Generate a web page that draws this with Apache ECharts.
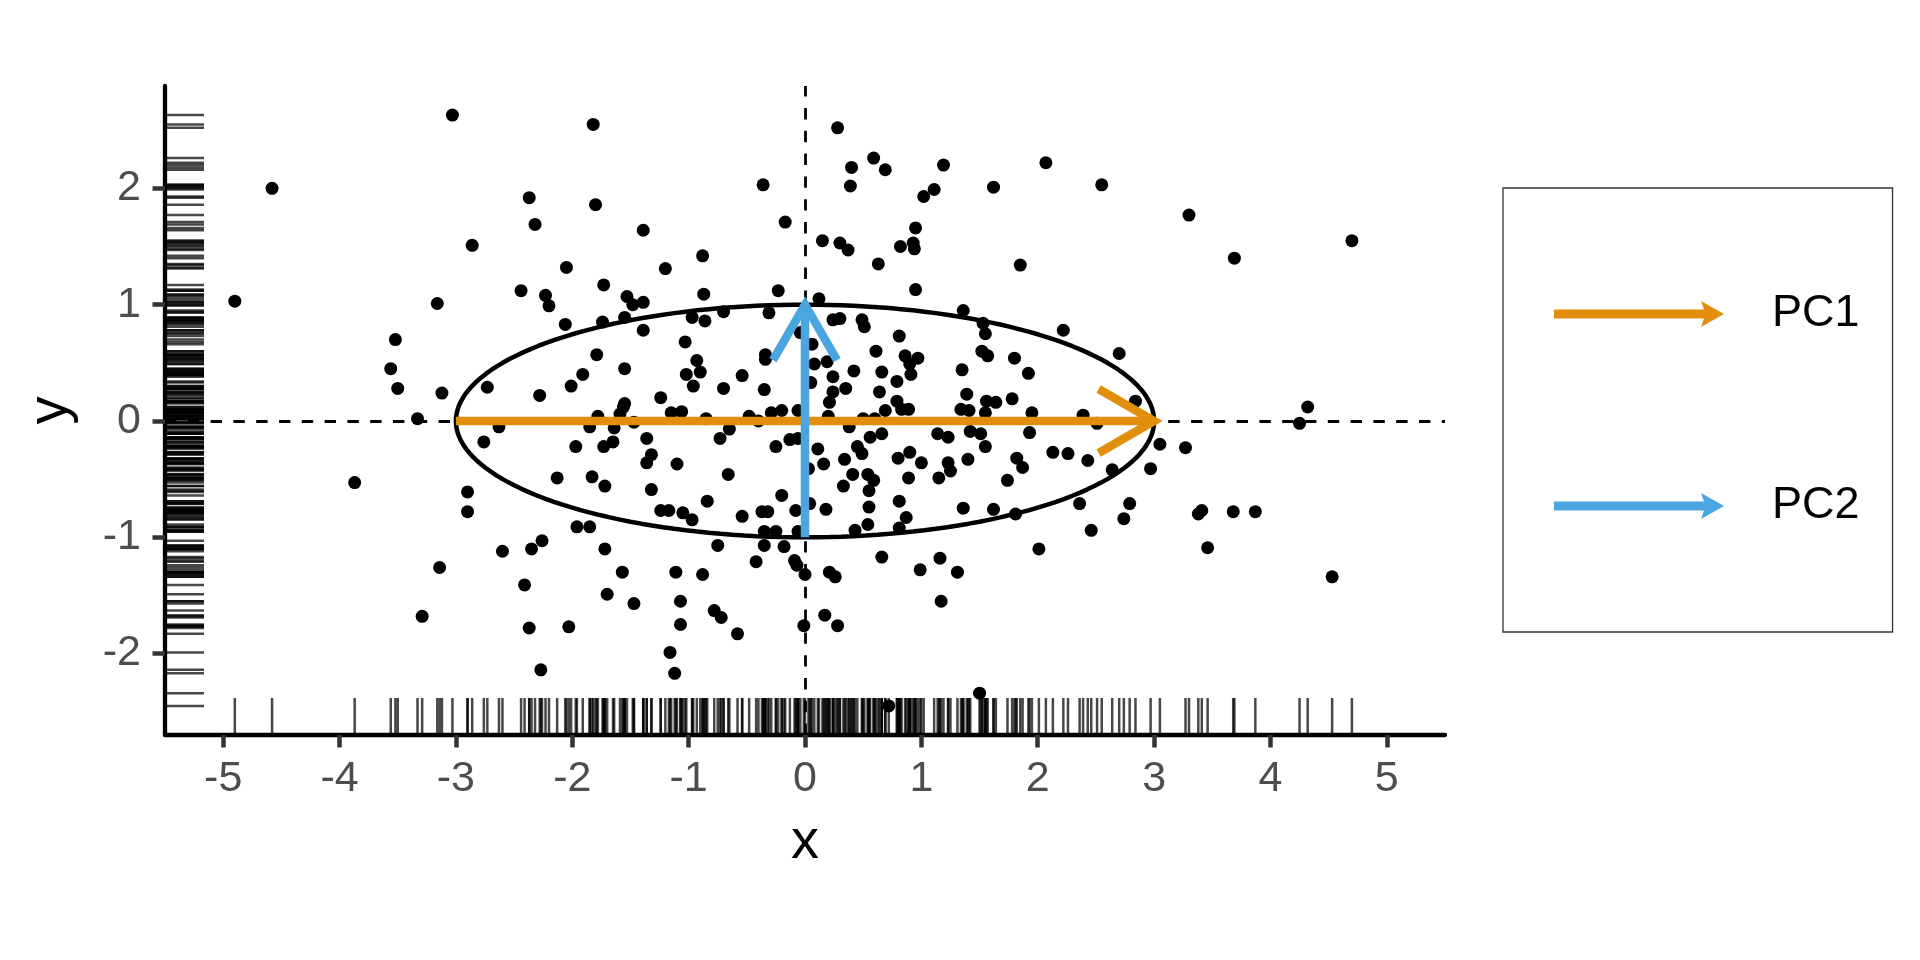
<!DOCTYPE html>
<html><head><meta charset="utf-8">
<script src="https://cdn.jsdelivr.net/npm/echarts@6/dist/echarts.min.js"></script>
<style>html,body{margin:0;padding:0;background:#fff}#c{width:1920px;height:960px}</style>
</head><body><div id="c"></div>
<script>
// ---- data ----
const pointsX = [
-3.03,-4.58,-2.86,-4.90,-3.16,-3.52,-3.56,-3.50,-3.12,-2.73,
-1.82,-0.36,-2.37,-1.80,-2.32,-0.17,-1.39,0.15,-0.88,-2.05,-1.20,-1.73,-2.44,-2.23,-1.53,-0.23,-0.87,-2.20,-1.48,-1.39,0.12,-0.70,-2.06,-1.74,-1.55,-0.97,-0.86,-0.31,-1.39,-1.03,-0.04,0.06,-1.79,-0.93,-0.34,-0.34,0.08,-1.55,-1.91,-1.02,-0.90,-0.54,0.05,-2.28,-2.01,-0.96,-0.70,-0.35,-1.55,-1.24,
0.28,0.59,0.40,0.69,1.19,2.07,0.39,1.62,2.55,1.11,1.02,0.95,0.30,0.37,0.82,0.93,0.94,0.63,1.85,0.95,1.36,0.24,0.30,0.49,0.51,1.53,1.55,2.22,0.81,0.61,0.86,0.97,0.90,1.52,1.57,1.80,2.70,0.19,0.42,0.66,0.91,1.35,1.92,0.24,0.79,0.35,0.24,0.64,1.39,1.78,2.84,0.21,0.79,1.56,1.64,
3.30,3.69,4.70,
-3.33,-2.76,-3.87,-2.90,-2.90,-3.14,-3.29,
-1.78,-1.59,-1.56,-1.15,-1.06,-0.85,-0.48,-0.40,-0.29,-0.20,-0.06,-2.63,-1.85,-1.64,-1.47,-0.65,-1.97,-1.73,-1.65,-1.36,-0.73,-0.25,-0.13,-0.06,0.11,-1.32,-1.36,-1.10,0.03,0.16,-2.13,-1.83,-1.72,-1.32,-0.66,-0.20,-0.84,0.04,0.18,-1.24,-1.17,-1.05,-0.97,-0.54,-0.37,-0.32,-0.08,-1.96,-1.85,-0.35,-0.25,-0.06,-2.26,-2.35,-2.60,-1.72,-0.75,-0.35,-0.18,-0.42,-0.09,-0.07,0.00,-1.57,-1.11,-0.88,-2.41,-1.70,-1.47,-1.07,-0.78,-0.72,-0.58,0.17,-2.37,-2.03,-1.07,-0.01,-1.16,-2.27,-1.12,
0.69,0.83,0.89,1.34,1.41,1.55,1.95,2.39,2.51,0.50,0.60,0.20,0.38,0.56,0.66,1.14,1.23,1.42,1.51,1.93,1.55,0.45,0.49,0.34,0.80,0.90,1.00,1.23,1.25,1.40,1.82,1.87,2.13,2.26,2.43,2.64,2.97,0.41,0.54,0.59,0.89,1.15,1.74,0.33,0.55,0.81,0.55,0.87,0.54,0.43,0.81,1.36,1.62,1.81,2.36,2.79,2.74,2.46,2.01,0.66,1.16,0.99,1.31,0.21,0.26,1.17,0.28,1.50,0.72,
4.32,4.25,3.05,3.27,3.38,3.41,3.68,3.87,3.46,4.53
];
const pointsY = [
2.63,2.00,1.51,1.03,1.01,0.70,0.45,0.28,0.24,0.29,
2.55,2.03,1.92,1.86,1.69,1.71,1.64,1.55,1.42,1.32,1.31,1.17,1.12,1.08,1.07,1.12,1.09,0.99,1.00,1.02,1.05,0.94,0.83,0.85,0.89,0.89,0.86,0.93,0.78,0.68,0.76,0.66,0.57,0.52,0.57,0.53,0.49,0.45,0.40,0.40,0.42,0.39,0.33,0.22,0.30,0.30,0.28,0.27,0.15,0.20,
2.52,2.26,2.18,2.16,2.20,2.22,2.02,2.01,2.03,1.99,1.93,1.66,1.53,1.47,1.50,1.53,1.48,1.35,1.34,1.13,0.95,0.87,0.88,0.87,0.81,0.84,0.75,0.78,0.73,0.60,0.56,0.54,0.49,0.60,0.56,0.54,0.58,0.51,0.43,0.42,0.40,0.44,0.41,0.38,0.34,0.28,0.25,0.25,0.23,0.19,0.17,0.16,0.17,0.17,0.16,
1.77,1.40,1.55,
0.02,-0.18,-0.53,-0.61,-0.78,-1.26,-1.68,
0.04,0.06,0.12,0.07,0.08,0.02,0.04,0.00,0.07,0.09,0.09,-0.05,-0.05,-0.06,-0.01,-0.07,-0.22,-0.22,-0.18,-0.15,-0.15,-0.22,-0.16,-0.15,-0.24,-0.29,-0.36,-0.37,-0.41,-0.37,-0.49,-0.48,-0.56,-0.59,-0.46,-0.64,-0.69,-0.71,-0.76,-0.77,-0.77,-0.79,-0.85,-0.82,-0.78,-0.78,-0.77,-0.91,-0.91,-0.95,-0.95,-0.95,-1.03,-1.10,-1.12,-1.10,-1.07,-1.07,-1.08,-1.21,-1.20,-1.24,-1.32,-1.30,-1.30,-1.32,-1.41,-1.49,-1.57,-1.55,-1.63,-1.69,-1.83,-1.67,-1.78,-1.77,-1.75,-1.76,-1.99,-2.14,-2.17,
0.09,0.10,0.10,0.10,0.09,0.07,0.07,0.05,-0.02,0.02,0.02,0.04,-0.05,-0.14,-0.11,-0.11,-0.14,-0.09,-0.11,-0.10,-0.22,-0.22,-0.28,-0.33,-0.32,-0.27,-0.36,-0.36,-0.43,-0.33,-0.32,-0.40,-0.27,-0.28,-0.34,-0.42,-0.41,-0.46,-0.46,-0.51,-0.49,-0.49,-0.51,-0.56,-0.60,-0.69,-0.74,-0.83,-0.89,-0.94,-0.92,-0.75,-0.76,-0.80,-0.71,-0.71,-0.84,-0.94,-1.10,-1.17,-1.18,-1.28,-1.30,-1.30,-1.34,-1.55,-1.76,-2.34,-2.45,
0.12,-0.02,-0.20,-0.23,-0.80,-0.77,-0.78,-0.78,-1.09,-1.34
];
const xTicks = [-5,-4,-3,-2,-1,0,1,2,3,4,5];
const yTicks = [-2,-1,0,1,2];
const xRange = [-5.5, 5.5];
const yRange = [-2.70, 2.88];
const pcNames = ['PC1','PC2'];
const pcStart = [[-3,0],[0,-1]];
const pcEnd = [[3,0],[0,1]];
const pcColors = ['#E08E0B','#4AA5E0'];
const ellipseCenter = [0,0];
const ellipseRadii = [3,1];

// ---- build ----
const FONT = 'Liberation Sans, Arial, sans-serif';
const points = pointsX.map((x,i)=>[x, pointsY[i]]);
const rugX = pointsX.map(x=>[x, yRange[0]]);
const rugY = pointsY.map(y=>[xRange[0], y]);
const ellipse = [];
for (let d=0; d<=360; d+=2){
  const t = d*Math.PI/180;
  ellipse.push([ellipseCenter[0]+ellipseRadii[0]*Math.cos(t), ellipseCenter[1]+ellipseRadii[1]*Math.sin(t)]);
}
const arrowIcon = 'path://M0,8.5 L150,8.5 L147,0 L170,13 L147,26 L150,17.5 L0,17.5 Z';

function arrowSeries(i){
  return {
    type:'custom', name:pcNames[i], coordinateSystem:'cartesian2d', z:5, silent:true,
    itemStyle:{color:pcColors[i]},
    data:[[pcStart[i][0], pcStart[i][1], pcEnd[i][0], pcEnd[i][1]]],
    renderItem:function(params, api){
      const p0 = api.coord([api.value(0), api.value(1)]);
      const p1 = api.coord([api.value(2), api.value(3)]);
      const ang = Math.atan2(p1[1]-p0[1], p1[0]-p0[0]);
      const L = 64, a = Math.PI/6;
      const h1 = [p1[0]-L*Math.cos(ang-a), p1[1]-L*Math.sin(ang-a)];
      const h2 = [p1[0]-L*Math.cos(ang+a), p1[1]-L*Math.sin(ang+a)];
      const c = pcColors[i];
      return {type:'group', children:[
        {type:'line', shape:{x1:p0[0],y1:p0[1],x2:p1[0],y2:p1[1]}, style:{stroke:c, lineWidth:8.5, lineCap:'butt'}},
        {type:'polyline', shape:{points:[h1,p1,h2]}, style:{stroke:c, fill:null, lineWidth:8.5, lineJoin:'miter', lineCap:'butt'}}
      ]};
    }
  };
}

const chart = echarts.init(document.getElementById('c'), null, {renderer:'canvas'});
chart.setOption({
  animation:false,
  backgroundColor:'#fff',
  grid:{left:165, top:86, width:1280, height:649, containLabel:false},
  xAxis:{
    type:'value', min:xRange[0], max:xRange[1],
    name:'x', nameLocation:'middle', nameGap:80,
    nameTextStyle:{fontSize:56, color:'#000', fontFamily:FONT},
    axisLine:{onZero:false, lineStyle:{color:'#000', width:4.3}},
    axisTick:{customValues:xTicks, length:12.5, lineStyle:{color:'#333', width:4.5}},
    axisLabel:{customValues:xTicks, fontSize:43, color:'#4D4D4D', margin:23, fontFamily:FONT},
    splitLine:{show:false}
  },
  yAxis:{
    type:'value', min:yRange[0], max:yRange[1],
    name:'y', nameLocation:'middle', nameGap:86, nameRotate:90,
    nameTextStyle:{fontSize:56, color:'#000', fontFamily:FONT},
    axisLine:{onZero:false, lineStyle:{color:'#000', width:4.3}},
    axisTick:{customValues:yTicks, length:12.5, lineStyle:{color:'#333', width:4.5}},
    axisLabel:{customValues:yTicks, fontSize:43, color:'#4D4D4D', margin:24, fontFamily:FONT},
    splitLine:{show:false}
  },
  legend:{
    orient:'vertical', left:1503, top:188,
    data:[{name:'PC1', icon:arrowIcon},{name:'PC2', icon:arrowIcon}],
    itemWidth:170, itemHeight:26, itemGap:144, symbolKeepAspect:false,
    padding:[102,33,102,51],
    borderColor:'#333', borderWidth:1.3, selectedMode:false,
    textStyle:{fontSize:45, color:'#000', fontFamily:FONT, lineHeight:48, padding:[0,0,0,43]}
  },
  series:[
    {type:'scatter', name:'ref', data:[], z:1, silent:true,
     markLine:{silent:true, symbol:['none','none'], label:{show:false},
       lineStyle:{type:[11.4,11.4], color:'#000', width:2.8, opacity:1},
       data:[{xAxis:0},{yAxis:0}]}},
    {type:'scatter', name:'rugx', data:rugX, symbol:'rect', symbolSize:[2.5,37], symbolOffset:[0,-18.5],
     itemStyle:{color:'rgba(0,0,0,0.72)', opacity:1}, z:2, clip:false, silent:true},
    {type:'scatter', name:'rugy', data:rugY, symbol:'rect', symbolSize:[39,2.5], symbolOffset:[19.5,0],
     itemStyle:{color:'rgba(0,0,0,0.72)', opacity:1}, z:2, clip:false, silent:true},
    {type:'scatter', name:'points', data:points, symbol:'circle', symbolSize:13,
     itemStyle:{color:'#000', opacity:1}, z:3, silent:true},
    {type:'line', name:'ellipse', data:ellipse, showSymbol:false, symbol:'none', smooth:false,
     lineStyle:{color:'#000', width:4.5}, z:4, silent:true},
    arrowSeries(0),
    arrowSeries(1)
  ]
});
</script></body></html>
